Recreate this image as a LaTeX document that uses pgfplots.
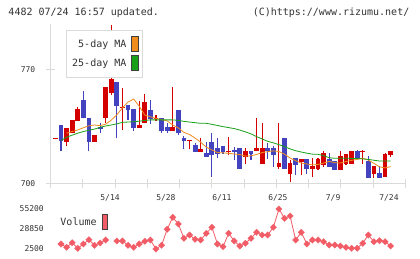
\documentclass[border=0pt]{standalone}
\usepackage{pgfplots}
\pgfplotsset{compat=1.18}
\usepackage{pgfplotstable}
\usepackage{fontspec}
\setmainfont{DejaVu Sans Mono}

\definecolor{axgrey}{HTML}{DADADA}
\definecolor{txt}{HTML}{333333}
\definecolor{cup}{HTML}{D40000}
\definecolor{cdown}{HTML}{4343BF}
\definecolor{cma5}{HTML}{F08C1E}
\definecolor{cma25}{HTML}{18A018}
\definecolor{cvol}{HTML}{F25C66}

% daily candles, t = trading day index; o h l c
\pgfplotstableread{
t o h l c
-1 727.3 727.9 727.3 727.9
1 725.8 734.2 723.2 734.2
2 731.1 739.1 731.1 739.1
3 738.6 747.2 738.6 745.8
6 725.8 729.9 725.8 729.9
8 740.3 759.2 737.0 759.2
9 755.5 797.0 754.3 763.9
11 746.5 758.8 733.0 747.1
14 734.4 750.7 734.4 735.8
15 737.0 754.7 737.0 749.9
17 739.7 742.1 738.4 740.3
20 732.3 759.4 732.3 734.6
23 726.3 726.9 721.1 726.9
25 719.8 728.1 719.8 721.1
30 719.8 728.9 717.7 720.4
33 716.7 721.8 712.5 720.1
35 720.1 740.3 720.1 721.8
36 712.5 737.0 712.5 721.8
39 710.3 737.0 709.2 712.6
41 706.1 714.6 701.2 712.6
43 713.6 715.3 705.5 715.3
45 709.2 715.9 704.3 711.0
46 709.2 715.9 708.5 715.3
47 711.6 720.1 710.6 718.9
50 708.5 720.1 708.5 717.1
51 712.2 718.3 711.6 718.3
52 712.2 720.1 712.2 720.1
54 719.8 720.8 712.2 720.4
56 706.1 711.0 703.7 711.0
58 704.3 718.9 704.3 718.3
59 717.7 720.1 716.7 720.1
}\up

\pgfplotstableread{
t o h l c
0 736.0 736.0 720.3 726.2
4 751.3 756.8 740.1 740.1
5 740.1 740.1 720.0 725.8
7 734.8 737.2 731.3 733.7
10 762.3 762.3 727.8 747.8
12 748.2 748.2 739.1 745.2
13 745.6 745.6 732.4 734.4
16 745.2 751.3 736.6 739.7
18 740.1 740.1 731.3 732.3
19 734.6 737.0 730.9 732.3
21 745.2 745.2 729.9 730.9
22 728.3 729.3 721.4 726.4
24 723.8 725.0 719.8 719.8
26 718.9 725.8 716.7 716.7
27 725.9 731.1 704.5 717.7
28 722.0 728.1 715.9 718.6
29 723.2 723.2 718.6 719.7
31 720.8 722.3 714.6 719.5
32 721.8 721.8 709.2 709.2
34 720.1 720.1 714.6 718.3
37 721.8 724.8 715.3 720.1
38 721.8 722.9 710.6 717.7
40 727.9 727.9 709.2 709.2
42 715.7 715.7 705.5 711.6
44 715.3 715.3 706.1 709.2
48 715.3 718.9 710.4 710.4
49 714.0 714.0 708.5 708.5
53 720.1 720.8 715.3 715.3
55 714.0 717.1 703.7 703.7
57 706.5 711.0 703.7 703.7
}\down

% 5-day moving average
\pgfplotstableread{
t v
1 731.0
2 732.0
3 733.0
4 734.3
5 735.5
6 736.0
7 735.6
8 736.5
9 739.0
10 742.2
11 746.5
12 750.0
13 751.8
14 747.5
15 742.0
16 741.0
17 740.0
18 739.3
19 738.5
20 736.0
21 734.2
22 731.5
23 730.2
24 728.0
25 725.5
26 722.5
27 720.8
28 719.2
29 719.0
30 718.7
31 718.3
32 718.0
33 717.0
34 717.2
35 718.0
36 719.2
37 719.7
38 720.2
39 719.8
40 718.2
41 715.8
42 714.2
43 712.8
44 712.2
45 711.7
46 711.9
47 712.8
48 713.8
49 713.0
50 712.8
51 713.7
52 714.4
53 715.0
54 715.8
55 714.6
56 712.6
57 710.5
58 709.8
59 710.6
}\mafive

% 25-day moving average
\pgfplotstableread{
t v
0 726.5
1 728.5
2 729.8
3 731.0
4 732.0
5 732.8
6 733.5
7 734.6
8 735.4
9 736.0
10 736.7
11 737.6
12 737.8
13 738.0
14 738.3
15 738.8
16 739.1
17 739.1
18 739.1
19 739.1
20 739.1
21 738.8
22 738.2
23 737.8
24 737.4
25 737.0
26 737.0
27 736.4
28 735.7
29 735.0
30 734.4
31 733.8
32 732.9
33 731.8
34 730.6
35 728.9
36 727.5
37 726.0
38 725.1
39 724.0
40 722.8
41 721.4
42 720.3
43 719.5
44 718.8
45 718.2
46 718.1
47 717.3
48 716.0
49 715.7
50 715.7
51 715.7
52 715.6
53 715.5
54 715.3
55 715.0
56 714.5
57 714.0
58 714.0
59 714.0
}\matwentyfive

% daily volume
\pgfplotstableread{
t v
0 9088
1 4740
2 10800
3 3420
4 9088
5 14750
6 7375
7 10405
8 14360
9 nan
10 13040
11 13040
12 7375
13 4740
14 9088
15 12645
16 14360
17 2500
18 7375
19 28455
20 44265
21 35440
22 16600
23 20945
24 15280
25 14360
26 23185
27 31090
28 9088
29 5530
30 23185
31 13040
32 6450
33 10010
34 16600
35 24500
36 20945
37 20945
38 31090
39 55200
40 42950
41 45980
42 14360
43 24500
44 9088
45 14360
46 14360
47 12120
48 7770
49 7770
50 6450
51 4740
52 3420
53 3420
54 10010
55 20945
56 12120
57 13435
58 12120
59 6450
}\vol

\pgfplotsset{
  candle/.style n args={2}{forget plot, only marks, mark size=0pt,
    mark options={draw=none, fill=none},
    error bars/.cd, y dir=plus, y explicit, error mark=none,
    error bar style={line width=#1, color=#2}},
}

\begin{document}
\begin{tikzpicture}[every node/.style={text=txt}]
\fill[white] (0,0) rectangle (420bp,259bp);
\path[use as bounding box] (0,0) rectangle (420bp,259bp);

\node[anchor=west, inner sep=0pt, font=\fontsize{10bp}{12bp}\selectfont] at (8.3bp,246bp) {4482 07/24 16:57 updated.};
\node[anchor=east, inner sep=0pt, font=\fontsize{10bp}{12bp}\selectfont] at (409.5bp,246bp) {(C)https://www.rizumu.net/};

\begin{axis}[
  scale only axis, width=354.6bp, height=160bp,
  at={(50.7bp,75bp)}, anchor=south west,
  xmin=-1.843, xmax=61.62, ymin=700, ymax=797.6,
  axis x line*=bottom, axis y line*=left,
  axis line style={draw=axgrey, line width=1bp, -},
  every tick/.style={draw=axgrey, line width=1bp},
  tick align=center, major tick length=9bp,
  xtick={-1.843,3.927,9.697,15.466,21.236,27.005,32.775,38.545,44.314,50.084,55.853,61.62},
  xticklabels={},
  extra x ticks={8.78,18.78,28.8,38.82,48.7,58.7},
  extra x tick labels={5/14,5/28,6/11,6/25,7/9,7/24},
  extra x tick style={major tick length=0pt,
    xticklabel style={inner sep=0pt, anchor=center, yshift=-14bp}},
  ytick={700,770}, yticklabels={700,770},
  yticklabel style={inner sep=0pt, anchor=east, xshift=-10.7bp},
  tick label style={font=\fontsize{8bp}{9bp}\selectfont, text=txt},
  legend plot pos=right,
  legend cell align=right,
  legend style={at={(rel axis cs:0.0423,0.9625)}, anchor=north west,
    draw=axgrey, line width=1bp, fill=white, inner xsep=4bp, inner ysep=6bp,
    font=\fontsize{10bp}{12bp}\selectfont, row sep=3bp, column sep=3bp},
]
% wicks
\addplot[candle={1.1bp}{cup}]
  table[x=t, y=l, y error plus expr=\thisrow{h}-\thisrow{l}] {\up};
\addplot[candle={1.1bp}{cdown}]
  table[x=t, y=l, y error plus expr=\thisrow{h}-\thisrow{l}] {\down};
% bodies
\addplot[candle={4.8bp}{cup}]
  table[x=t, y=o, y error plus expr=\thisrow{c}-\thisrow{o}] {\up};
\addplot[candle={4.8bp}{cdown}]
  table[x=t, y=c, y error plus expr=\thisrow{o}-\thisrow{c}] {\down};
% moving averages
\addplot[color=cma5, line width=0.8bp, mark=none,
  legend image code/.code={\draw[fill=cma5, draw=darkgray, line width=0.8bp] (0bp,-7.5bp) rectangle (6.5bp,7.5bp);}]
  table[x=t, y=v] {\mafive};
\addlegendentry{5-day MA}
\addplot[color=cma25, line width=0.8bp, mark=none,
  legend image code/.code={\draw[fill=cma25, draw=darkgray, line width=0.8bp] (0bp,-7.5bp) rectangle (6.5bp,7.5bp);}]
  table[x=t, y=v] {\matwentyfive};
\addlegendentry{25-day MA}
\end{axis}

\begin{axis}[
  scale only axis, width=354.6bp, height=40bp,
  at={(50.7bp,10bp)}, anchor=south west,
  xmin=-1.843, xmax=61.62, ymin=2500, ymax=55200,
  hide x axis, axis y line*=left,
  y axis line style={draw=none},
  major tick length=0pt, scaled y ticks=false,
  ytick={2500,28850,55200}, yticklabels={2500,28850,55200},
  yticklabel style={inner sep=0pt, anchor=east, xshift=-6.7bp,
    font=\fontsize{8bp}{9bp}\selectfont, text=txt},
  clip=false, unbounded coords=jump,
  legend plot pos=right,
  legend style={at={(rel axis cs:0.0214,0.675)}, anchor=west, draw=none, fill=none,
    inner sep=0pt, font=\fontsize{10bp}{12bp}\selectfont, column sep=3bp},
]
\addplot[color=cvol, line width=0.8bp, mark=square*, mark size=2.3bp,
  mark options={rotate=45, fill=cvol, draw=cvol, line width=0.1bp},
  legend image code/.code={\draw[fill=cvol, draw=darkgray, line width=0.8bp] (0bp,-7.5bp) rectangle (5.6bp,7.5bp);}]
  table[x=t, y=v] {\vol};
\addlegendentry{Volume}
\end{axis}
\end{tikzpicture}
\end{document}
